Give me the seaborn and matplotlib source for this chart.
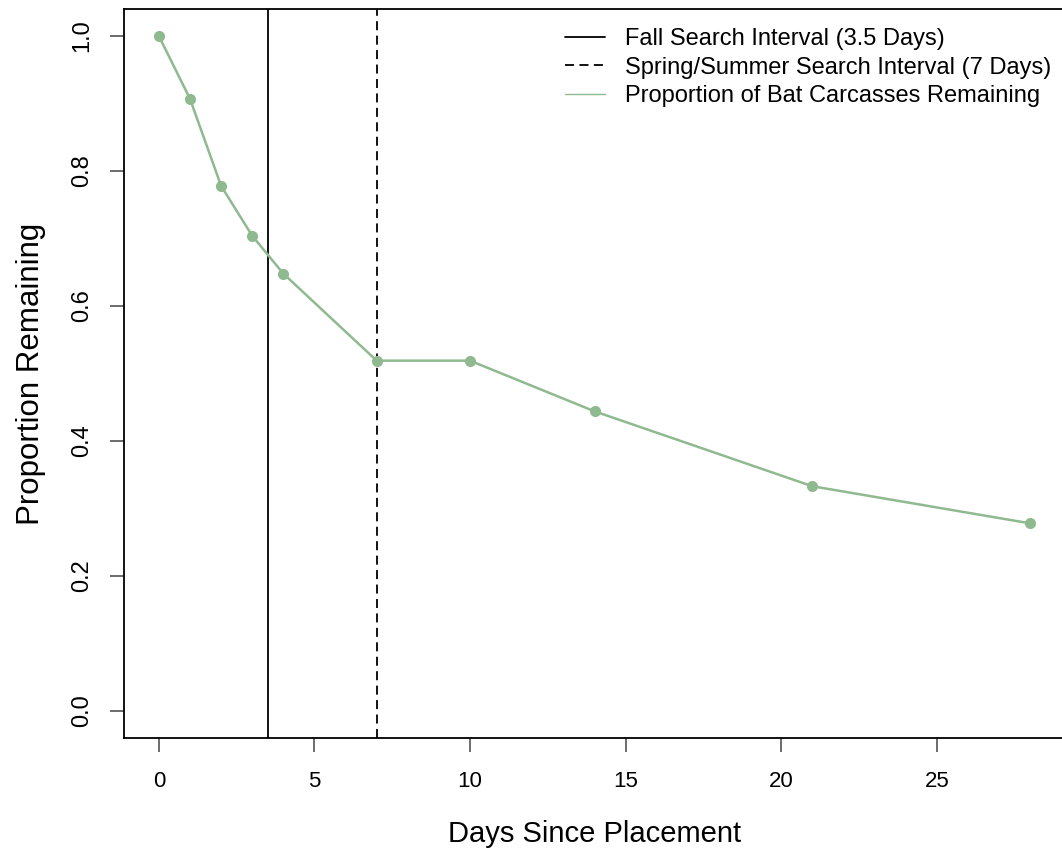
import matplotlib
matplotlib.use("Agg")
import matplotlib.pyplot as plt
import seaborn as sns
import pandas as pd

# proporcao de carcacas que continuam no local por dia
days = [0, 1, 2, 3, 4, 7, 10, 14, 21, 28]
remaining = [1.0, 0.907, 0.778, 0.704, 0.648, 0.519, 0.519, 0.444, 0.333, 0.278]
fall_interval = 3.5
spring_interval = 7
x_ticks = [0, 5, 10, 15, 20, 25]
y_ticks = [0.0, 0.2, 0.4, 0.6, 0.8, 1.0]

green = "#8FB98F"

sns.set_style("ticks")
plt.rcParams['font.family'] = ['Liberation Sans', 'DejaVu Sans']
plt.rcParams['text.color'] = 'black'
plt.rcParams['axes.labelcolor'] = 'black'

df = pd.DataFrame({"days": days, "remaining": remaining})

fig = plt.figure(figsize=(10.62, 8.5), dpi=100)
ax = fig.add_axes([124 / 1062, 1 - 738 / 850, (1065 - 124) / 1062, (738 - 9) / 850])

ax.axvline(fall_interval, color="black", lw=1.3, label="Fall Search Interval (3.5 Days)")
ax.axvline(spring_interval, color="black", lw=1.3, ls=(0, (5, 3)),
           label="Spring/Summer Search Interval (7 Days)")
sns.lineplot(data=df, x="days", y="remaining", ax=ax, color=green, lw=1.8,
             marker="o", markersize=8, markeredgewidth=0,
             label="Proportion of Bat Carcasses Remaining")

ax.set_xlim(-1.12, 29.12)
ax.set_ylim(-0.04, 1.04)
ax.set_xticks(x_ticks)
ax.set_xticklabels([str(t) for t in x_ticks])
ax.set_yticks(y_ticks)
ax.set_yticklabels([f"{t:.1f}" for t in y_ticks], rotation=90, va="center")

ax.tick_params(axis="both", direction="out", length=10, width=1.1, color="#444444",
               labelcolor="black")
ax.tick_params(axis="x", pad=14, labelsize=16)
ax.tick_params(axis="y", pad=12, labelsize=17)
for s in ax.spines.values():
    s.set_linewidth(1.3)
    s.set_color("black")

ax.set_xlabel("Days Since Placement", fontsize=21, labelpad=20)
ax.set_ylabel("Proportion Remaining", fontsize=22.5, labelpad=18)

leg = ax.legend(loc="upper left", bbox_to_anchor=(565 / 1062, 1 - 28 / 850),
                bbox_transform=fig.transFigure, frameon=False, fontsize=17,
                handlelength=1.7, handletextpad=0.85, labelspacing=0.28,
                borderpad=0, borderaxespad=0)
for h in leg.get_lines():
    h.set_marker("")
leg.get_lines()[2].set_linewidth(1.0)

fig.savefig("out.png", dpi=100)
